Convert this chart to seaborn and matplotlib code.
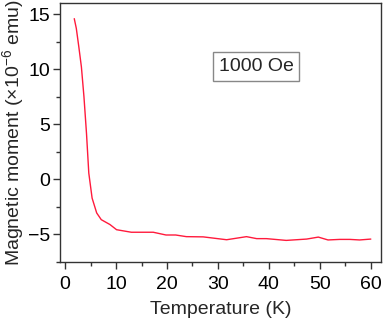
import matplotlib
matplotlib.use("Agg")
import matplotlib.pyplot as plt
from matplotlib.ticker import MultipleLocator
import seaborn as sns
import pandas as pd

temperature = [1.8, 2.2, 2.7, 3.2, 3.7, 4.2, 4.65, 5.3, 6.2, 7.1, 8.8, 10.1, 13.0,
               17.3, 19.8, 21.7, 23.8, 27.1, 31.7, 35.6, 37.6, 39.5, 43.4, 47.4,
               49.7, 51.6, 53.9, 55.9, 57.8, 60.0]
moment = [14.58, 13.7, 12.0, 10.2, 7.5, 4.17, 0.57, -1.7, -3.05, -3.66, -4.1, -4.57,
          -4.8, -4.8, -5.05, -5.05, -5.2, -5.22, -5.48, -5.2, -5.38, -5.38, -5.54,
          -5.42, -5.24, -5.5, -5.45, -5.45, -5.5, -5.42]
field_label = "1000 Oe"

df = pd.DataFrame({"T": temperature, "M": moment})

sns.set_style("ticks")
plt.rcParams['font.family'] = ['Liberation Sans', 'DejaVu Sans']
plt.rcParams['mathtext.fontset'] = 'custom'
plt.rcParams['mathtext.rm'] = 'Liberation Sans'

fig = plt.figure(figsize=(3.84, 3.19), dpi=100)
ax = fig.add_axes([60/384, 1-262/319, 321/384, 259/319])

sns.lineplot(data=df, x="T", y="M", ax=ax, color="#ff1a3c", linewidth=1.0, sort=False)

ax.set_xlim(-1, 62)
ax.set_ylim(-7.5, 16)
ax.xaxis.set_major_locator(MultipleLocator(10))
ax.xaxis.set_minor_locator(MultipleLocator(5))
ax.yaxis.set_major_locator(MultipleLocator(5))
ax.yaxis.set_minor_locator(MultipleLocator(2.5))
ax.tick_params(axis='both', which='major', length=5, width=1, labelsize=14, colors='#333333', labelcolor='black')
ax.tick_params(axis='x', which='major', pad=5)
ax.tick_params(axis='y', which='major', pad=2)
ax.tick_params(axis='both', which='minor', length=3, width=1, colors='#333333')
for s in ax.spines.values():
    s.set_visible(True)
    s.set_color('#333333')
    s.set_linewidth(1)

ax.set_xlabel("Temperature (K)", fontsize=14, labelpad=6)
ax.set_ylabel("Magnetic moment (\u00d710$^{-6}$ emu)", fontsize=14, labelpad=1)

ax.text(0.611, 0.754, field_label, transform=ax.transAxes, fontsize=14,
        ha='center', va='center',
        bbox=dict(boxstyle='square,pad=0.3', facecolor='white', edgecolor='#888888', linewidth=1))

fig.savefig("out.png", dpi=100)
